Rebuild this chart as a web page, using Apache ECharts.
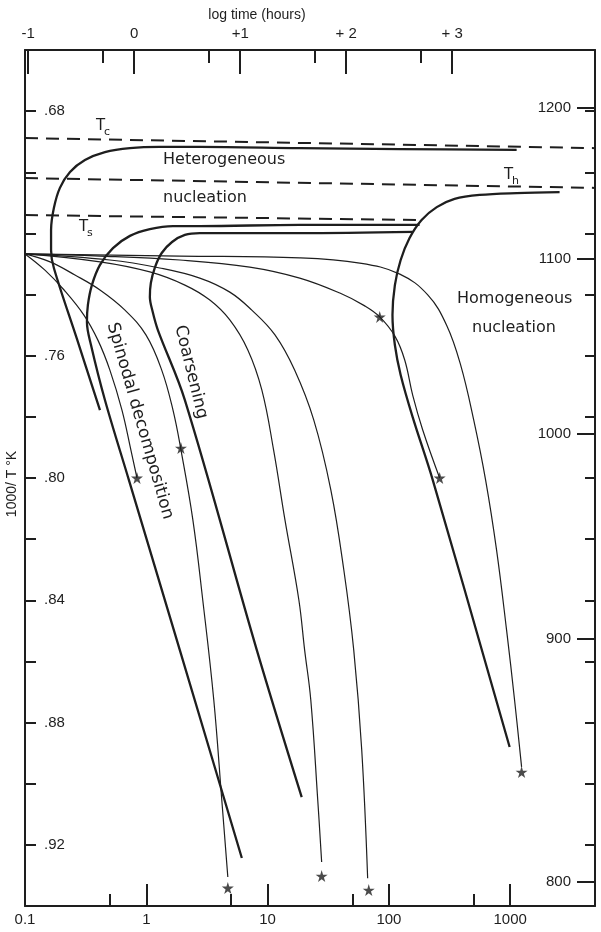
<!DOCTYPE html>
<html><head><meta charset="utf-8">
<script src="https://cdn.jsdelivr.net/npm/echarts@6/dist/echarts.min.js"></script>
<style>html,body{margin:0;padding:0;background:#fff}#c{width:601px;height:932px}</style>
</head><body><div id="c"></div>
<script>
// ---- axis ticks / labels ----
const timeMinorTicks = [0.5, 5, 50, 500];
const logTimeTicks = [-1, 0, 1, 2, 3];
const invTTicks = [0.68,0.70,0.72,0.74,0.76,0.78,0.80,0.82,0.84,0.86,0.88,0.90,0.92];
const invTLabels = [0.68,0.76,0.80,0.84,0.88,0.92];
const tempLabels = [1200, 1100, 1000, 900, 800];   // deg C on right axis
const rightMinorTicks = [0.68,0.70,0.72,0.74,0.76,0.78,0.80,0.82,0.84,0.86,0.88,0.90,0.92];

// ---- critical temperatures (dashed) ----
const tcTime = [0.1, 5000], tcInvT = [0.6888, 0.6921];
const thTime = [0.1, 5000], thInvT = [0.7019, 0.7051];
const tsTime = [0.1, 173],  tsInvT = [0.7140, 0.7156];

// ---- heavy curves ----
const heteroTime = [1130, 123, 18.4, 2.76, 1.29, 0.733, 0.456, 0.312, 0.235, 0.194, 0.173, 0.164, 0.164, 0.173, 0.268, 0.415];
const heteroInvT = [0.6927,0.6924,0.6921,0.6917,0.6917,0.6921,0.6934,0.6960,0.6999,0.7051,0.7117,0.7189,0.7254,0.7313,0.7545,0.7778];
const spinodalTime = [179, 18.4, 2.76, 1.66, 1.07, 0.733, 0.531, 0.415, 0.356, 0.330, 0.324, 0.350, 0.456, 0.719, 1.89, 6.13];
const spinodalInvT = [0.7172,0.7172,0.7176,0.7176,0.7186,0.7208,0.7248,0.7303,0.7369,0.7434,0.7490,0.7565,0.7745,0.8007,0.8563,0.9243];
const coarsenTime = [157, 18.4, 2.76, 2.08, 1.63, 1.34, 1.18, 1.09, 1.07, 1.13, 1.246, 2.08, 8.15, 19.1];
const coarsenInvT = [0.7195,0.7199,0.7199,0.7205,0.7228,0.7264,0.7310,0.7362,0.7408,0.7457,0.7516,0.7745,0.8563,0.9044];
const homoTime = [2553, 1130, 560, 348, 248, 186, 148, 125, 112, 107, 112, 125, 157, 230, 989];
const homoInvT = [0.7065,0.7068,0.7074,0.7087,0.7114,0.7156,0.7215,0.7287,0.7369,0.7467,0.7565,0.7663,0.7801,0.8007,0.8880];

// ---- light curves ----
const thinATime = [0.1, 0.146, 0.210, 0.306, 0.399, 0.501, 0.630, 0.746, 0.838];
const thinAInvT = [0.7267,0.7320,0.7385,0.7467,0.7549,0.7647,0.7778,0.7908,0.8000];
const thinBTime = [0.1, 0.161, 0.258, 0.415, 0.667, 0.993, 1.34, 1.66, 1.93, 2.42, 2.92, 3.60, 4.19, 4.70];
const thinBInvT = [0.7267,0.7293,0.7336,0.7385,0.7451,0.7532,0.7647,0.7778,0.7908,0.8137,0.8399,0.8726,0.9053,0.9305];
const thinCTime = [0.1, 0.415, 1.07, 2.08, 3.34, 4.88, 6.87, 8.96, 11.2, 13.9, 18.1, 20.2, 22.7, 25.9, 27.9];
const thinCInvT = [0.7267,0.7293,0.7326,0.7369,0.7418,0.7483,0.7581,0.7712,0.7908,0.8137,0.8399,0.8563,0.8726,0.9053,0.9256];
const thinDTime = [0.1, 0.501, 1.29, 2.76, 4.88, 7.41, 11.5, 16.7, 24.0, 33.2, 42.5, 51.3, 59.7, 66.8];
const thinDInvT = [0.7267,0.7287,0.7313,0.7346,0.7392,0.7451,0.7532,0.7647,0.7810,0.8039,0.8301,0.8563,0.8890,0.9309];
const thinETime = [0.1, 0.415, 1.89, 7.13, 18.4, 39.4, 63.2, 84.0, 112, 135, 157, 190, 262];
const thinEInvT = [0.7267,0.7274,0.7287,0.7310,0.7346,0.7395,0.7437,0.7473,0.7536,0.7614,0.7729,0.7843,0.8000];
const thinFTime = [0.1, 1.89, 18.4, 57.5, 123, 209, 299, 390, 500, 627, 772, 933, 1086, 1241];
const thinFInvT = [0.7267,0.7274,0.7280,0.7297,0.7333,0.7401,0.7500,0.7630,0.7810,0.8007,0.8236,0.8497,0.8726,0.8945];

// ---- stars ----
const starTime = [0.838, 1.93, 4.70, 27.9, 68.2, 84.0, 262, 1241];
const starInvT = [0.8000, 0.7902, 0.9341, 0.9302, 0.9348, 0.7473, 0.8000, 0.8962];

const zip = (a, b) => a.map((v, i) => [v, b[i]]);
const INK = '#1e1e1e';
const AX = {color: INK, width: 2};
const NUMFONT = 'Liberation Sans';
const TXTFONT = 'DejaVu Sans';
const starPath = 'path://M50,0 L61,35 L98,35 L68,57 L79,91 L50,70 L21,91 L32,57 L2,35 L39,35 Z';

function heavy(t, v) {
  return {type: 'line', xAxisIndex: 0, yAxisIndex: 0, data: zip(t, v), showSymbol: false, smooth: 0.35,
    lineStyle: {color: INK, width: 2.3}, silent: true};
}
function light(t, v) {
  return {type: 'line', xAxisIndex: 0, yAxisIndex: 0, data: zip(t, v), showSymbol: false, smooth: 0.4,
    lineStyle: {color: INK, width: 1.2}, silent: true};
}
function dashed(t, v) {
  return {type: 'line', xAxisIndex: 0, yAxisIndex: 0, data: zip(t, v), showSymbol: false,
    lineStyle: {color: INK, width: 2, type: [13, 8]}, silent: true};
}

const G = {left: 25, right: 6, top: 50, bottom: 26};
const topMin = -1.03, topMax = 4.347;
const yBase = {type: 'value', min: 0.66, max: 0.94, inverse: true, splitLine: {show: false}};

const option = {
  animation: false,
  backgroundColor: '#fff',
  grid: [Object.assign({}, G), Object.assign({}, G)],
  xAxis: [
    {type: 'log', logBase: 10, gridIndex: 0, position: 'bottom', min: 0.1, max: 5000,
     axisLine: {show: true, onZero: false, lineStyle: AX},
     axisTick: {show: true, inside: true, length: 22, lineStyle: AX},
     axisLabel: {show: true, margin: 6, fontSize: 15, fontFamily: NUMFONT, color: INK,
       formatter: v => (v > 1001 ? '' : String(Math.round(v * 10) / 10))},
     splitLine: {show: false}},
    {type: 'value', gridIndex: 0, position: 'top', min: topMin, max: topMax,
     axisLine: {show: true, onZero: false, lineStyle: AX},
     axisTick: {show: true, inside: true, length: 24, customValues: logTimeTicks, lineStyle: AX},
     axisLabel: {show: true, customValues: logTimeTicks, margin: 9, fontSize: 15, fontFamily: NUMFONT, color: INK,
       formatter: v => (v < 0 ? String(v) : v === 0 ? '0' : v === 1 ? '+1' : '+ ' + v)},
     splitLine: {show: false}},
    {type: 'value', gridIndex: 1, position: 'bottom', min: -1, max: Math.log10(5000),
     axisLine: {show: false, onZero: false},
     axisTick: {show: true, inside: true, length: 12, customValues: timeMinorTicks.map(Math.log10), lineStyle: AX},
     axisLabel: {show: false}, splitLine: {show: false}},
    {type: 'value', gridIndex: 1, position: 'top', min: topMin, max: topMax,
     axisLine: {show: false, onZero: false},
     axisTick: {show: true, inside: true, length: 13, customValues: timeMinorTicks.map(Math.log10), lineStyle: AX},
     axisLabel: {show: false}, splitLine: {show: false}}
  ],
  yAxis: [
    Object.assign({}, yBase, {gridIndex: 0, position: 'left',
     axisLine: {show: true, onZero: false, lineStyle: AX},
     axisTick: {show: true, inside: true, length: 11, customValues: invTTicks, lineStyle: AX},
     axisLabel: {show: true, inside: true, customValues: invTLabels, margin: 19, fontSize: 15, fontFamily: NUMFONT, color: INK,
       formatter: v => '.' + v.toFixed(2).slice(2)}}),
    Object.assign({}, yBase, {gridIndex: 0, position: 'right',
     axisLine: {show: true, onZero: false, lineStyle: AX},
     axisTick: {show: true, inside: true, length: 18, customValues: tempLabels.map(c => 1000 / (c + 273)), lineStyle: AX},
     axisLabel: {show: true, inside: true, customValues: tempLabels.map(c => 1000 / (c + 273)), margin: 24, fontSize: 15, fontFamily: NUMFONT, color: INK,
       formatter: v => String(Math.round(1000 / v - 273))}}),
    Object.assign({}, yBase, {gridIndex: 1, position: 'right',
     axisLine: {show: false, onZero: false},
     axisTick: {show: true, inside: true, length: 10, customValues: rightMinorTicks, lineStyle: AX},
     axisLabel: {show: false}})
  ],
  series: [
    dashed(tcTime, tcInvT), dashed(thTime, thInvT), dashed(tsTime, tsInvT),
    heavy(heteroTime, heteroInvT), heavy(spinodalTime, spinodalInvT),
    heavy(coarsenTime, coarsenInvT), heavy(homoTime, homoInvT),
    light(thinATime, thinAInvT), light(thinBTime, thinBInvT), light(thinCTime, thinCInvT),
    light(thinDTime, thinDInvT), light(thinETime, thinEInvT), light(thinFTime, thinFInvT),
    {type: 'scatter', xAxisIndex: 0, yAxisIndex: 0, data: zip(starTime, starInvT),
     symbol: starPath, symbolSize: 12, itemStyle: {color: INK}, silent: true}
  ],
  graphic: [
    {type: 'text', x: 257, y: 15, style: {text: 'log time (hours)', font: '14px ' + NUMFONT, fill: INK, align: 'center', verticalAlign: 'middle', textAlign: 'center', textVerticalAlign: 'middle'}},
    {type: 'text', x: 12, y: 484, rotation: Math.PI / 2, style: {text: '1000/ T \u00b0K', font: '14px ' + NUMFONT, fill: INK, align: 'center', verticalAlign: 'middle', textAlign: 'center', textVerticalAlign: 'middle'}},
    {type: 'text', x: 96, y: 126, style: {text: 'T', font: '15px ' + TXTFONT, fill: INK, verticalAlign: 'middle', textVerticalAlign: 'middle'}},
    {type: 'text', x: 104, y: 132, style: {text: 'c', font: '11px ' + TXTFONT, fill: INK, verticalAlign: 'middle', textVerticalAlign: 'middle'}},
    {type: 'text', x: 79, y: 227, style: {text: 'T', font: '15px ' + TXTFONT, fill: INK, verticalAlign: 'middle', textVerticalAlign: 'middle'}},
    {type: 'text', x: 87, y: 233, style: {text: 's', font: '11px ' + TXTFONT, fill: INK, verticalAlign: 'middle', textVerticalAlign: 'middle'}},
    {type: 'text', x: 504, y: 175, style: {text: 'T', font: '15px ' + TXTFONT, fill: INK, verticalAlign: 'middle', textVerticalAlign: 'middle'}},
    {type: 'text', x: 512, y: 181, style: {text: 'h', font: '11px ' + TXTFONT, fill: INK, verticalAlign: 'middle', textVerticalAlign: 'middle'}},
    {type: 'text', x: 163, y: 160, style: {text: 'Heterogeneous', font: '16px ' + TXTFONT, fill: INK, verticalAlign: 'middle', textVerticalAlign: 'middle'}},
    {type: 'text', x: 163, y: 198, style: {text: 'nucleation', font: '16px ' + TXTFONT, fill: INK, verticalAlign: 'middle', textVerticalAlign: 'middle'}},
    {type: 'text', x: 457, y: 299, style: {text: 'Homogeneous', font: '16px ' + TXTFONT, fill: INK, verticalAlign: 'middle', textVerticalAlign: 'middle'}},
    {type: 'text', x: 472, y: 328, style: {text: 'nucleation', font: '16px ' + TXTFONT, fill: INK, verticalAlign: 'middle', textVerticalAlign: 'middle'}},
    {type: 'text', x: 140, y: 421, rotation: -1.29, style: {text: 'Spinodal decomposition', font: '17px ' + TXTFONT, fill: INK, align: 'center', verticalAlign: 'middle', textAlign: 'center', textVerticalAlign: 'middle'}},
    {type: 'text', x: 191, y: 372, rotation: -1.33, style: {text: 'Coarsening', font: '17px ' + TXTFONT, fill: INK, align: 'center', verticalAlign: 'middle', textAlign: 'center', textVerticalAlign: 'middle'}}
  ]
};
const chart = echarts.init(document.getElementById('c'));
chart.setOption(option);
</script></body></html>
